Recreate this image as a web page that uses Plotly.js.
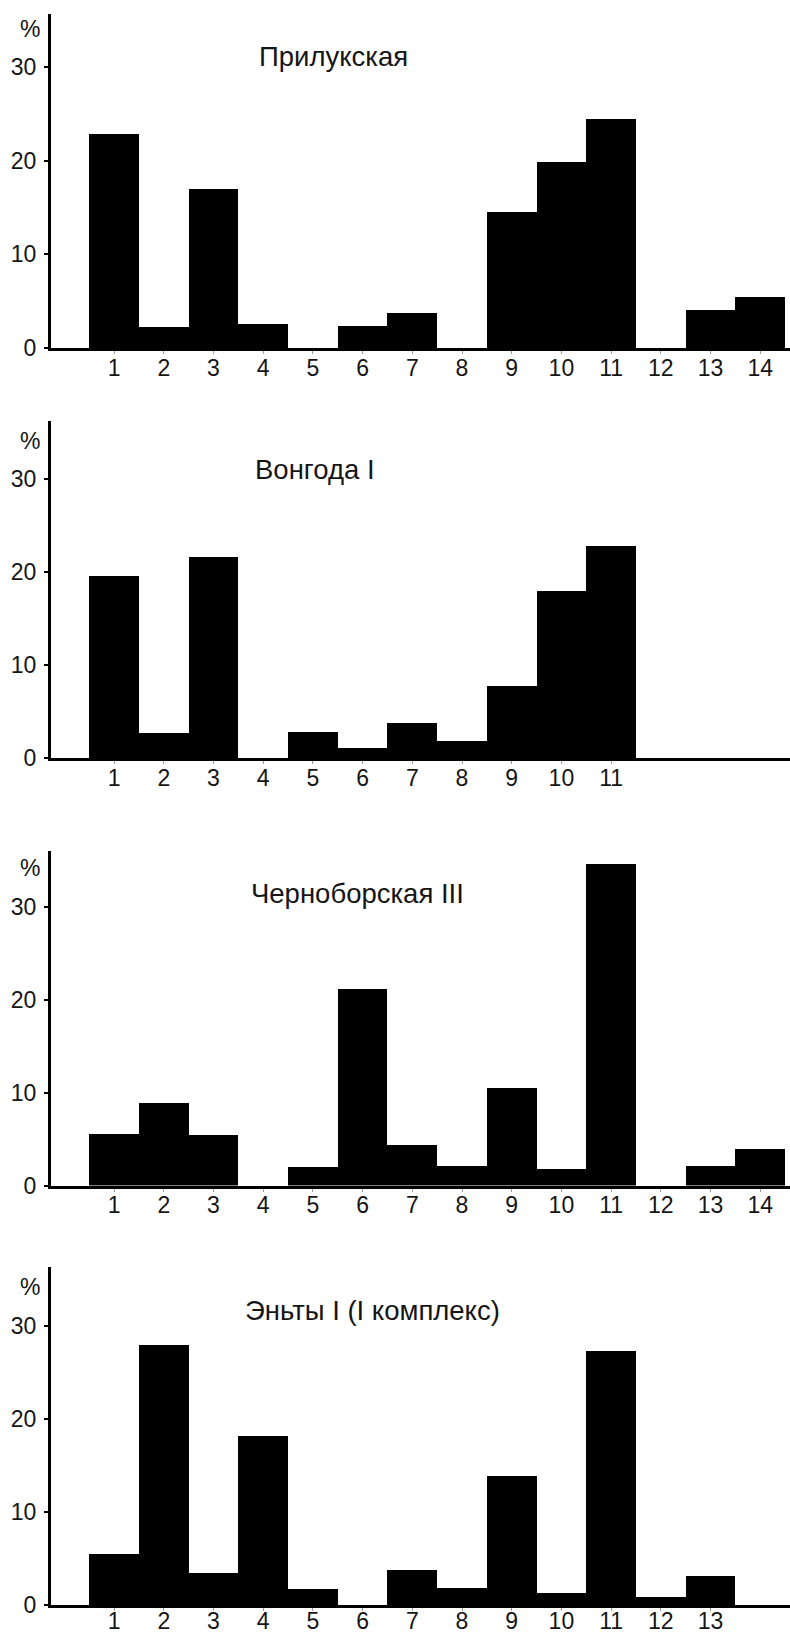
<!DOCTYPE html>
<html>
<head>
<meta charset="utf-8">
<script src="https://cdn.plot.ly/plotly-3.0.1.min.js"></script>
<style>
  html, body { margin: 0; padding: 0; background: #ffffff; }
  #chart { width: 790px; height: 1634px; }
</style>
</head>
<body>
<div id="chart"></div>
<script>
// ---- data ----
const categories = [1, 2, 3, 4, 5, 6, 7, 8, 9, 10, 11, 12, 13, 14];
const panelTitles = ["Прилукская", "Вонгода I", "Черноборская III", "Эньты I (I комплекс)"];
const prilukskayaValues = [22.9, 2.2, 17.0, 2.6, 0, 2.3, 3.7, 0, 14.5, 19.9, 24.5, 0, 4.1, 5.4];
const vongodaValues = [19.6, 2.7, 21.6, 0, 2.8, 1.1, 3.8, 1.8, 7.7, 18.0, 22.8];
const chernoborskayaValues = [5.5, 8.9, 5.4, 0, 2.0, 21.1, 4.4, 2.1, 10.5, 1.8, 34.6, 0, 2.1, 3.9];
const entyValues = [5.5, 27.9, 3.4, 18.1, 1.7, 0, 3.8, 1.8, 13.9, 1.3, 27.3, 0.9, 3.1];
const yTickValues = [0, 10, 20, 30];
const yTickLabels = ["0", "10", "20", "30"];
const unitLabel = "%";

const seriesList = [prilukskayaValues, vongodaValues, chernoborskayaValues, entyValues];

// ---- layout geometry (pixels in a 790 x 1634 page) ----
const W = 790, H = 1634;
const panelGeom = [
  { bottom: 348,    scale: 9.357, top: 14,     titleX: 333, titleY: 57,   labelShift: -6 },
  { bottom: 758,    scale: 9.30,  top: 420.7,  titleX: 315, titleY: 469,  labelShift: -6 },
  { bottom: 1185.5, scale: 9.293, top: 850.7,  titleX: 357, titleY: 893,  labelShift: -6 },
  { bottom: 1605,   scale: 9.31,  top: 1266.7, titleX: 372, titleY: 1310, labelShift: -10 }
];

const fontFamily = "Liberation Sans, Arial, Helvetica, sans-serif";
const traces = [];
const layout = {
  width: W, height: H,
  margin: { l: 0, r: 0, t: 0, b: 0 },
  paper_bgcolor: "#ffffff",
  plot_bgcolor: "rgba(0,0,0,0)",
  showlegend: false,
  bargap: 0,
  font: { family: fontFamily, color: "#151515" },
  annotations: []
};

seriesList.forEach((vals, i) => {
  const g = panelGeom[i];
  const sfx = i === 0 ? "" : String(i + 1);
  const xs = categories.slice(0, vals.length);
  const ymax = (g.bottom - g.top) / g.scale;

  traces.push({
    type: "bar",
    x: xs,
    y: vals,
    width: 1,
    xaxis: "x" + sfx,
    yaxis: "y" + sfx,
    marker: { color: "#000000", line: { width: 0 } },
    hoverinfo: "skip"
  });

  layout["xaxis" + sfx] = {
    domain: [51 / W, 1],
    anchor: "y" + sfx,
    range: [-0.27, 14.6],
    tickmode: "array",
    tickvals: xs,
    ticktext: xs.map(String),
    showline: true, linewidth: 3, linecolor: "#000000",
    ticks: "outside", ticklen: 3, tickwidth: 1, tickcolor: "#9a9a9a",
    showgrid: false, zeroline: false,
    tickfont: { size: 23, family: fontFamily, color: "#151515" },
    ticklabelstandoff: g.labelShift,
    fixedrange: true
  };
  layout["yaxis" + sfx] = {
    domain: [1 - g.bottom / H, 1 - g.top / H],
    anchor: "x" + sfx,
    range: [0, ymax],
    tickmode: "array",
    tickvals: yTickValues,
    ticktext: yTickLabels,
    showline: true, linewidth: 3, linecolor: "#000000",
    ticks: "outside", ticklen: 4, tickwidth: 2, tickcolor: "#000000",
    showgrid: false, zeroline: false,
    tickfont: { size: 23, family: fontFamily, color: "#151515" },
    ticklabelstandoff: 3,
    fixedrange: true
  };

  // "%" unit label above the y axis
  layout.annotations.push({
    xref: "paper", yref: "y" + sfx,
    x: 30 / W, y: 30 + 38.5 / g.scale,
    xanchor: "center", yanchor: "middle",
    text: unitLabel, showarrow: false,
    font: { size: 23, family: fontFamily, color: "#151515" }
  });
  // panel title
  layout.annotations.push({
    xref: "paper", yref: "paper",
    x: g.titleX / W, y: 1 - g.titleY / H,
    xanchor: "center", yanchor: "middle",
    text: panelTitles[i], showarrow: false,
    font: { size: 27.5, family: fontFamily, color: "#151515" }
  });
});

Plotly.newPlot("chart", traces, layout, { staticPlot: true, displayModeBar: false });
</script>
</body>
</html>
